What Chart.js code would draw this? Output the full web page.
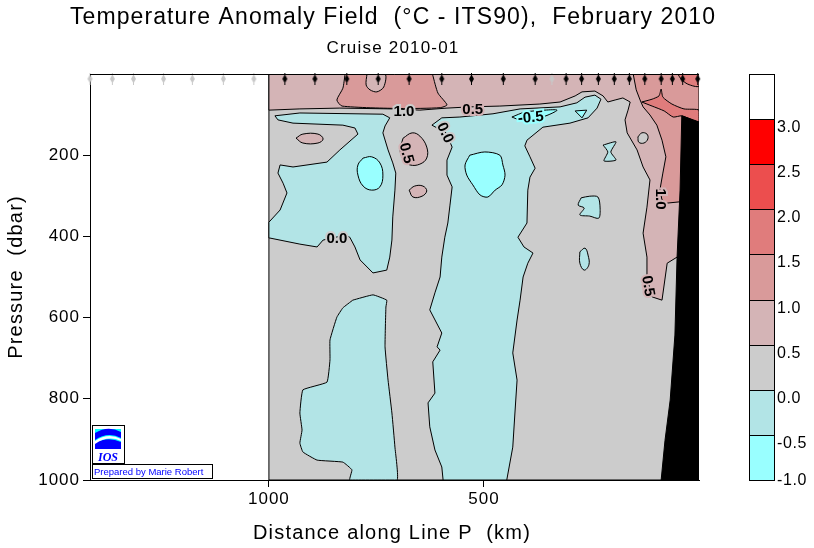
<!DOCTYPE html>
<html lang="en">
<head>
<meta charset="UTF-8">
<title>Temperature Anomaly Field, February 2010</title>
<script src="https://cdn.jsdelivr.net/npm/chart.js"></script>
<style>
  html, body { margin: 0; padding: 0; background: #fff; }
  #wrap { width: 814px; height: 548px; }
</style>
</head>
<body>
<div id="wrap"><canvas id="chart" width="814" height="548"></canvas></div>
<script>
// colour bar: level boundaries and the fill of each band (bottom to top)
const levels = [-1.0, -0.5, 0.0, 0.5, 1.0, 1.5, 2.0, 2.5, 3.0];
const bandColors = ['#99FFFF', '#B2E4E6', '#CCCCCC', '#D4B4B6', '#D99A9A', '#E07C7C', '#EC4E4E', '#FF0000', '#FFFFFF'];

// axes
const xTicks = [1000, 500];
const yTicks = [200, 400, 600, 800, 1000];

// CTD stations along the top (km)
const stationKm = [963, 893, 819, 746, 674, 598, 529, 455, 381, 309, 273, 234, 197, 162, 126, 88, 62, 38, 3];
const noDataKm = [1416, 1364, 1315, 1245, 1178, 1106, 1035, 342];

// contour regions, [km, dbar]
const dataArea = [[1000, 0], [0, 0], [0, 1000], [1000, 1000]];
const warmBand = [[1000, 0], [0, 0], [0, 458], [51, 451], [74, 466], [86, 557], [109, 549], [121, 500], [121, 451], [130, 392],
  [121, 328], [114, 261], [130, 229], [144, 187], [167, 145], [172, 113], [165, 89], [160, 69], [177, 59], [195, 64], [212, 69],
  [223, 54], [242, 42], [272, 44], [288, 54], [323, 69], [370, 74], [463, 79], [533, 81], [586, 84], [649, 89], [712, 86],
  [835, 84], [928, 86], [1000, 89]];
const topPatch10 = [[823, 0], [828, 35], [842, 64], [830, 79], [695, 85], [602, 83], [586, 76], [607, 47], [619, 3], [619, 0]];
const topLoop05 = [[772, 0], [774, 27], [765, 39], [749, 44], [733, 32], [730, 0]];
const slope10 = [[153, 0], [146, 39], [137, 64], [130, 81], [114, 101], [98, 126], [86, 163], [77, 204], [84, 244], [91, 286],
  [86, 310], [74, 318], [46, 315], [0, 315], [0, 0]];
const slopeHole = [[142, 155], [133, 145], [121, 148], [119, 160], [128, 170], [140, 168]];
const slope15 = [[133, 69], [109, 62], [93, 54], [88, 37], [84, 57], [63, 74], [35, 86], [0, 89], [0, 118], [40, 103], [60, 106],
  [81, 91], [109, 79]];
const corner15 = [[49, 0], [0, 0], [0, 30], [26, 25], [42, 12]];
const warmBlob1 = [[937, 158], [921, 148], [886, 148], [874, 160], [886, 170], [921, 170]];
const warmBlob2 = [[688, 158], [667, 145], [649, 153], [633, 180], [633, 207], [649, 222], [672, 224], [686, 212], [695, 187]];
const warmBlob3 = [[674, 286], [661, 276], [642, 276], [633, 288], [644, 301], [665, 303]];
const coolWest = [[986, 103], [928, 96], [735, 99], [719, 108], [730, 128], [735, 145], [723, 187], [712, 219], [705, 244],
  [707, 286], [712, 352], [714, 409], [719, 451], [726, 483], [758, 490], [788, 458], [800, 426], [812, 402], [823, 397],
  [874, 409], [888, 426], [928, 419], [998, 404], [1000, 404], [1000, 365], [974, 335], [958, 293], [967, 269], [979, 244],
  [974, 224], [944, 229], [865, 217], [835, 187], [793, 148], [800, 133], [828, 126], [944, 121], [979, 113]];
const coolCentre = [[621, 126], [598, 108], [556, 106], [479, 98], [416, 86], [323, 81], [284, 71], [265, 57], [242, 52],
  [228, 62], [237, 84], [258, 108], [300, 121], [363, 131], [400, 163], [405, 177], [393, 204], [381, 232], [393, 254],
  [398, 286], [400, 367], [421, 402], [407, 426], [386, 441], [398, 466], [409, 500], [416, 557], [423, 606], [433, 687],
  [423, 754], [428, 835], [433, 919], [447, 1000], [595, 1000], [598, 968], [614, 926], [626, 869], [630, 810], [614, 786],
  [619, 709], [602, 680], [609, 672], [598, 638], [626, 581], [614, 539], [602, 500], [598, 451], [591, 402], [584, 367],
  [579, 323], [574, 278], [586, 249], [586, 212], [574, 180], [588, 145]];
const coolDeep = [[805, 557], [758, 544], [726, 557], [728, 574], [730, 672], [723, 754], [714, 835], [707, 919], [702, 1000],
  [812, 1000], [807, 975], [828, 956], [888, 951], [921, 931], [928, 909], [923, 877], [928, 835], [921, 778], [865, 759],
  [858, 704], [858, 655], [842, 599], [828, 576]];
const coolSpot1 = [[223, 175], [193, 167], [205, 192], [193, 212], [221, 214], [212, 192]];
const coolSpot2 = [[274, 305], [254, 301], [235, 303], [230, 330], [233, 355], [254, 350], [277, 347], [267, 330], [281, 323]];
const coolSpot3 = [[277, 438], [265, 429], [258, 446], [256, 470], [267, 483], [277, 466]];
const coldWest = [[781, 207], [761, 204], [742, 219], [735, 249], [742, 278], [761, 286], [781, 276], [793, 249], [793, 224]];
const coldCentre = [[533, 200], [498, 192], [463, 200], [456, 224], [451, 249], [458, 273], [474, 286], [491, 303], [509, 298],
  [526, 273], [540, 249], [544, 224]];
const coldLens = [[435, 106], [405, 94], [358, 89], [330, 89], [351, 101], [381, 111], [416, 113]];
const coldWedge = [[288, 91], [261, 89], [272, 108]];
const shelf = [[0, 118], [40, 103], [44, 286], [51, 451], [56, 643], [67, 803], [79, 902], [88, 1000], [0, 1000]];

// contour labels
const labelText = ['1.0', '0.5', '-0.5', '0.0', '0.5', '0.0', '1.0', '0.5'];
const labelKm = [686, 526, 391, 591, 681, 842, 91, 119];
const labelDbar = [94, 89, 108, 145, 195, 406, 308, 522];
const labelRot = [0, 0, -5, 65, 75, 0, 90, 80];
const labelHalo = ['#CCCCCC', '#D4B4B6', '#99FFFF', '#CCCCCC', '#D4B4B6', '#CCCCCC', '#D4B4B6', '#D4B4B6'];

const FONT = '"Liberation Sans", Arial, sans-serif';

// painter's order, bottom first
const layers = [
  [dataArea, 2, 0], [warmBand, 3, 0], [topPatch10, 4, 0.2], [topLoop05, 3, 0.3], [slope10, 4, 0],
  [slopeHole, 2, 0.4], [slope15, 5, 0.2], [corner15, 5, 0.3],
  [warmBlob1, 3, 0.4], [warmBlob2, 3, 0.4], [warmBlob3, 3, 0.4],
  [coolWest, 1, 0], [coolCentre, 1, 0], [coolDeep, 1, 0.1],
  [coolSpot1, 1, 0.2], [coolSpot2, 1, 0.3], [coolSpot3, 1, 0.4],
  [coldWest, 0, 0.4], [coldCentre, 0, 0.3], [coldLens, 0, 0.3], [coldWedge, 0, 0]
];

function toPoints(list) {
  const pts = list.map(p => ({ x: p[0], y: p[1] }));
  pts.push({ x: list[0][0], y: list[0][1] });
  return pts;
}

const datasets = layers.map((l, i) => ({
  data: toPoints(l[0]),
  showLine: true,
  fill: 'shape',
  backgroundColor: bandColors[l[1]],
  borderColor: '#000',
  borderWidth: 1,
  pointRadius: 0,
  tension: l[2],
  order: -i
}));
datasets.push({
  data: toPoints(shelf), showLine: true, fill: 'shape', backgroundColor: '#000', borderColor: '#000',
  borderWidth: 1, pointRadius: 0, tension: 0, order: -100
});

function stationMark(color) {
  const c = document.createElement('canvas');
  c.width = 7; c.height = 12;
  const g = c.getContext('2d');
  g.fillStyle = color;
  g.beginPath();
  g.moveTo(3.5, 1.5); g.lineTo(6, 6); g.lineTo(3.5, 10.5); g.lineTo(1, 6);
  g.closePath(); g.fill();
  g.fillRect(3, 0, 1, 12);
  return c;
}
datasets.push({
  data: stationKm.map(k => ({ x: k, y: 12 })), showLine: false, pointStyle: stationMark('#000'),
  pointRadius: 4, clip: false, order: -101
});
datasets.push({
  data: noDataKm.map(k => ({ x: k, y: 12 })), showLine: false, pointStyle: stationMark('#C8C8C8'),
  pointRadius: 4, clip: false, order: -102
});

const overlay = {
  id: 'overlay',
  beforeDraw(chart) {
    chart.ctx.letterSpacing = '1px';
  },
  afterDraw(chart) {
    const { ctx, chartArea: a, scales: { x, y } } = chart;
    ctx.save();
    ctx.strokeStyle = '#000';
    ctx.lineWidth = 1;
    ctx.beginPath();
    ctx.moveTo(a.left, a.top + 0.5);
    ctx.lineTo(a.right, a.top + 0.5);
    ctx.stroke();

    // titles
    ctx.fillStyle = '#000';
    ctx.textAlign = 'center';
    ctx.textBaseline = 'alphabetic';
    ctx.letterSpacing = '1.1px';
    ctx.font = '23px ' + FONT;
    ctx.fillText('Temperature Anomaly Field  (\u00B0C - ITS90),  February 2010', 393, 24);
    ctx.letterSpacing = '1.2px';
    ctx.font = '17px ' + FONT;
    ctx.fillText('Cruise 2010-01', 393, 53);
    ctx.letterSpacing = '1.2px';
    ctx.font = '20px ' + FONT;
    ctx.fillText('Distance along Line P  (km)', 392, 539);
    ctx.save();
    ctx.translate(22, 277);
    ctx.rotate(-Math.PI / 2);
    ctx.fillText('Pressure  (dbar)', 0, 0);
    ctx.restore();

    // contour labels
    ctx.letterSpacing = '0px';
    ctx.font = 'bold 15px ' + FONT;
    ctx.textAlign = 'center';
    ctx.textBaseline = 'middle';
    labelText.forEach((t, i) => {
      ctx.save();
      ctx.translate(x.getPixelForValue(labelKm[i]), y.getPixelForValue(labelDbar[i]));
      ctx.rotate(labelRot[i] * Math.PI / 180);
      ctx.lineWidth = 4;
      ctx.strokeStyle = labelHalo[i];
      ctx.strokeText(t, 0, 0);
      ctx.fillStyle = '#000';
      ctx.fillText(t, 0, 0);
      ctx.restore();
    });

    // colour bar
    const cbL = 749, cbW = 25, cbTop = a.top, cbBot = a.bottom;
    const binH = (cbBot - cbTop) / bandColors.length;
    const edge = i => Math.round(cbBot - i * binH);
    bandColors.forEach((c, i) => {
      ctx.fillStyle = c;
      ctx.fillRect(cbL, edge(i + 1), cbW, edge(i) - edge(i + 1));
    });
    ctx.strokeStyle = '#000';
    ctx.lineWidth = 1;
    ctx.strokeRect(cbL + 0.5, cbTop + 0.5, cbW, cbBot - cbTop);
    for (let i = 1; i < bandColors.length; i++) {
      ctx.beginPath();
      ctx.moveTo(cbL, edge(i) + 0.5);
      ctx.lineTo(cbL + cbW, edge(i) + 0.5);
      ctx.stroke();
    }
    ctx.fillStyle = '#000';
    ctx.textAlign = 'left';
    ctx.textBaseline = 'alphabetic';
    ctx.letterSpacing = '0.6px';
    ctx.font = '16px ' + FONT;
    levels.forEach((v, i) => {
      ctx.fillText(v.toFixed(1), 777, Math.min(edge(i) + 13, 485));
    });

    // IOS logo and credit
    ctx.letterSpacing = '0px';
    ctx.fillStyle = '#fff';
    ctx.fillRect(92, 425, 32, 38);
    ctx.strokeStyle = '#000';
    ctx.strokeRect(92.5, 425.5, 32, 38);
    ctx.fillStyle = '#00FFFF';
    ctx.fillRect(95, 429, 26, 20);
    ctx.fillStyle = '#0000FF';
    ctx.beginPath();
    ctx.moveTo(95, 433); ctx.quadraticCurveTo(108, 425, 121, 432); ctx.lineTo(121, 438);
    ctx.quadraticCurveTo(108, 431, 95, 440); ctx.closePath(); ctx.fill();
    ctx.beginPath();
    ctx.moveTo(95, 443); ctx.quadraticCurveTo(108, 436, 121, 442); ctx.lineTo(121, 449);
    ctx.lineTo(95, 449); ctx.closePath(); ctx.fill();
    ctx.fillStyle = '#fff';
    ctx.beginPath();
    ctx.moveTo(95, 441); ctx.quadraticCurveTo(108, 432, 121, 439); ctx.lineTo(121, 441);
    ctx.quadraticCurveTo(108, 435, 95, 444); ctx.closePath(); ctx.fill();
    ctx.fillStyle = '#0000FF';
    ctx.font = 'italic bold 12px "Liberation Serif", serif';
    ctx.textAlign = 'center';
    ctx.fillText('IOS', 108, 461);
    ctx.fillStyle = '#fff';
    ctx.fillRect(92, 464, 120, 14);
    ctx.strokeRect(92.5, 464.5, 120, 14);
    ctx.fillStyle = '#0000FF';
    ctx.font = '9.5px ' + FONT;
    ctx.textAlign = 'left';
    ctx.fillText('Prepared by Marie Robert', 94, 475);
    ctx.restore();
  }
};

new Chart(document.getElementById('chart'), {
  type: 'scatter',
  data: { datasets },
  options: {
    responsive: false,
    animation: false,
    devicePixelRatio: 1,
    events: [],
    layout: { padding: { top: 74, right: 115, left: 0, bottom: 0 } },
    plugins: { legend: { display: false }, tooltip: { enabled: false } },
    scales: {
      x: {
        type: 'linear', reverse: true, min: 0, max: 1416,
        afterBuildTicks: s => { s.ticks = xTicks.map(v => ({ value: v })); },
        afterFit: s => { s.height = 68; },
        ticks: { color: '#000', font: { family: FONT, size: 17 }, padding: 2, maxRotation: 0, autoSkip: false,
          callback: v => String(v) },
        grid: { drawOnChartArea: false, color: '#000', tickLength: 7 },
        border: { color: '#000', width: 1 }
      },
      y: {
        type: 'linear', reverse: true, min: 0, max: 1000,
        afterBuildTicks: s => { s.ticks = yTicks.map(v => ({ value: v })); },
        afterFit: s => { s.width = 90; },
        ticks: { color: '#000', font: { family: FONT, size: 17 }, padding: 3, autoSkip: false,
          callback: v => String(v) },
        grid: { drawOnChartArea: false, color: '#000', tickLength: 7 },
        border: { color: '#000', width: 1 }
      }
    }
  },
  plugins: [overlay]
});
</script>
</body>
</html>
